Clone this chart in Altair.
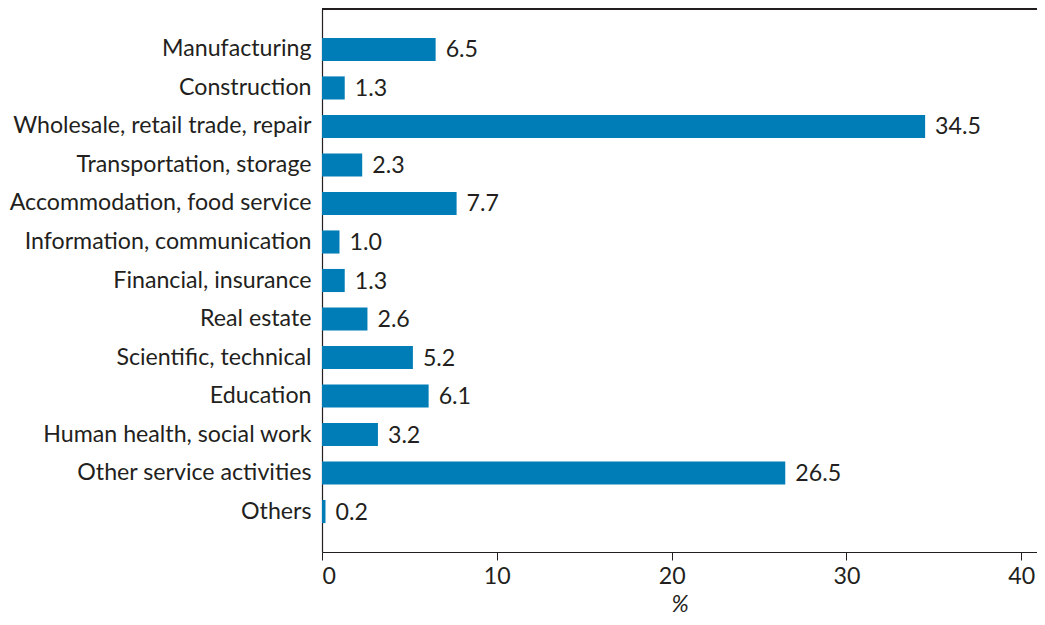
import altair as alt
import pandas as pd

categories = [
    "Manufacturing", "Construction", "Wholesale, retail trade, repair",
    "Transportation, storage", "Accommodation, food service",
    "Information, communication", "Financial, insurance", "Real estate",
    "Scientific, technical", "Education", "Human health, social work",
    "Other service activities", "Others",
]
values = [6.5, 1.3, 34.5, 2.3, 7.7, 1.0, 1.3, 2.6, 5.2, 6.1, 3.2, 26.5, 0.2]
x_ticks = [0, 10, 20, 30, 40]

df = pd.DataFrame({"cat": categories, "val": values})
df["label"] = [f"{v:.1f}" for v in values]

FONT = "Lato"
TXT = "#231f20"
FS = 23.2
W, H = 715, 543

base = alt.Chart(df)
y = alt.Y("cat:N", sort=categories, title=None,
          scale=alt.Scale(paddingInner=0.4, paddingOuter=0.75),
          axis=alt.Axis(ticks=False, labelPadding=11, labelFontSize=FS,
                        labelFont=FONT, labelColor=TXT, domainColor=TXT,
                        domainWidth=1.2, labelLimit=400))
x = alt.X("val:Q", title="%",
          scale=alt.Scale(domain=[0, 40.9], nice=False),
          axis=alt.Axis(values=x_ticks, grid=False, tickSize=8, tickColor=TXT,
                        domainColor=TXT, domainWidth=1.2, labelFontSize=FS,
                        labelFont=FONT, labelColor=TXT, labelPadding=5,
                        titleFont=FONT, titleFontSize=FS, titleColor=TXT,
                        titleFontStyle="italic", titleFontWeight="normal",
                        titlePadding=6))

bars = base.mark_bar(color="#007db7").encode(x=x, y=y)
labels = base.mark_text(align="left", baseline="middle", dx=10, dy=1,
                        fontSize=FS, font=FONT, color=TXT).encode(
    x="val:Q", y=alt.Y("cat:N", sort=categories), text="label:N")
top = alt.Chart(df).mark_rule(color=TXT, strokeWidth=1.2).encode(
    y=alt.value(0), x=alt.value(0), x2=alt.value(W))

chart = alt.layer(bars, labels, top).properties(
    width=W, height=H,
    autosize=alt.AutoSizeParams(type="none"),
    padding={"left": 314, "top": 1, "right": 0, "bottom": 64},
).configure_view(stroke=None)

chart.save("out.html", embed_options={"renderer": "svg", "actions": False})
